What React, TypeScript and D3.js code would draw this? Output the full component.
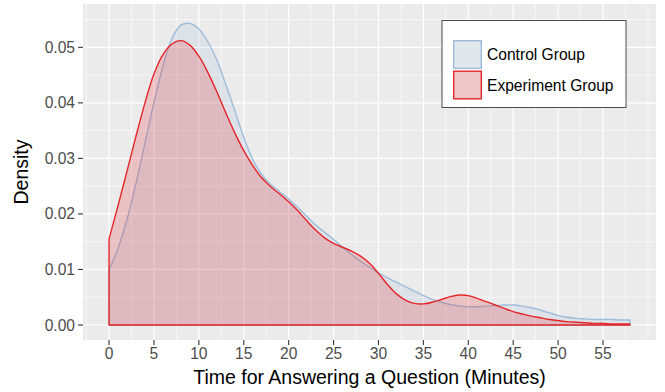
import { useEffect, useRef } from "react";
import * as d3 from "d3";

const minutes = d3.range(0, 59);

const controlDensity = [
  0.0099, 0.0138, 0.0190, 0.0255, 0.0328, 0.0400, 0.0466, 0.0516, 0.0540, 0.0543,
  0.0533, 0.0510, 0.0477, 0.0433, 0.0386, 0.0338, 0.0298, 0.0271, 0.0253, 0.0240,
  0.0227, 0.0212, 0.0196, 0.0180, 0.0167, 0.0154, 0.0140, 0.0127, 0.0115, 0.0104,
  0.0094, 0.0085, 0.0077, 0.0069, 0.0061, 0.0053, 0.0046, 0.0041, 0.0037, 0.0034,
  0.0033, 0.0033, 0.0034, 0.0035, 0.0036, 0.0036, 0.0034, 0.0031, 0.0027, 0.0022,
  0.0017, 0.0014, 0.0012, 0.0011, 0.0010, 0.0010, 0.0010, 0.0009, 0.0009,
];

const experimentDensity = [
  0.0155, 0.0215, 0.0277, 0.0340, 0.0400, 0.0452, 0.0487, 0.0506, 0.0512, 0.0504,
  0.0484, 0.0455, 0.0420, 0.0382, 0.0346, 0.0314, 0.0287, 0.0265, 0.0249, 0.0236,
  0.0222, 0.0206, 0.0188, 0.0171, 0.0157, 0.0147, 0.0140, 0.0133, 0.0124, 0.0111,
  0.0093, 0.0073, 0.0056, 0.0045, 0.0039, 0.0038, 0.0041, 0.0046, 0.0051, 0.0054,
  0.0053, 0.0048, 0.0042, 0.0036, 0.0030, 0.0024, 0.0020, 0.0016, 0.0013, 0.0010,
  0.0008, 0.0006, 0.0005, 0.0004, 0.0003, 0.0003, 0.0002, 0.0002, 0.0002,
];

const xTicks = d3.range(0, 60, 5);
const xMinor = d3.range(-2.5, 61, 2.5).filter((v) => !xTicks.includes(v));
const yTicks = [0, 0.01, 0.02, 0.03, 0.04, 0.05];
const yMinor = [0.005, 0.015, 0.025, 0.035, 0.045, 0.055];

const groups = [
  { name: "Control Group", values: controlDensity, fill: "#a6bddb", stroke: "#9ebcda" },
  { name: "Experiment Group", values: experimentDensity, fill: "#e41a1c", stroke: "#e3262a" },
];

export default function App() {
  const svgRef = useRef(null);

  useEffect(() => {
    document.body.style.margin = "0";
    const panel = { left: 83, right: 656, top: 4, bottom: 340 };

    const svg = d3.select(svgRef.current);
    svg.selectAll("*").remove();

    const x = d3.scaleLinear().domain([-2.9, 60.9]).range([panel.left, panel.right]);
    const y = d3.scaleLinear().domain([-0.0027, 0.0578]).range([panel.bottom, panel.top]);

    svg.append("rect")
      .attr("x", panel.left)
      .attr("y", panel.top)
      .attr("width", panel.right - panel.left)
      .attr("height", panel.bottom - panel.top)
      .attr("fill", "#ebebeb");

    const grid = svg.append("g");
    grid.selectAll("line.xminor").data(xMinor).join("line")
      .attr("x1", (d) => x(d)).attr("x2", (d) => x(d))
      .attr("y1", panel.top).attr("y2", panel.bottom)
      .attr("stroke", "#fff").attr("stroke-width", 0.6);
    grid.selectAll("line.yminor").data(yMinor).join("line")
      .attr("y1", (d) => y(d)).attr("y2", (d) => y(d))
      .attr("x1", panel.left).attr("x2", panel.right)
      .attr("stroke", "#fff").attr("stroke-width", 0.6);
    grid.selectAll("line.xmajor").data(xTicks).join("line")
      .attr("x1", (d) => x(d)).attr("x2", (d) => x(d))
      .attr("y1", panel.top).attr("y2", panel.bottom)
      .attr("stroke", "#fff").attr("stroke-width", 1.2);
    grid.selectAll("line.ymajor").data(yTicks).join("line")
      .attr("y1", (d) => y(d)).attr("y2", (d) => y(d))
      .attr("x1", panel.left).attr("x2", panel.right)
      .attr("stroke", "#fff").attr("stroke-width", 1.2);

    const area = d3.area()
      .x((d, i) => x(minutes[i]))
      .y0(y(0))
      .y1((d) => y(d))
      .curve(d3.curveCatmullRom);

    groups.forEach((g) => {
      svg.append("path")
        .attr("d", area(g.values))
        .attr("fill", g.fill)
        .attr("fill-opacity", 0.2)
        .attr("stroke", g.stroke)
        .attr("stroke-width", 1.4)
        .attr("stroke-linejoin", "round");
    });

    const font = "Liberation Sans, Arial, Helvetica, sans-serif";

    // axes
    const axes = svg.append("g").attr("font-family", font);
    axes.selectAll("line.xtick").data(xTicks).join("line")
      .attr("x1", (d) => x(d)).attr("x2", (d) => x(d))
      .attr("y1", panel.bottom).attr("y2", panel.bottom + 5)
      .attr("stroke", "#333").attr("stroke-width", 1.1);
    axes.selectAll("text.xlab").data(xTicks).join("text")
      .attr("x", (d) => x(d))
      .attr("y", 358.5)
      .attr("text-anchor", "middle")
      .attr("font-size", 15.6)
      .attr("fill", "#4d4d4d")
      .text((d) => d);
    axes.selectAll("line.ytick").data(yTicks).join("line")
      .attr("y1", (d) => y(d)).attr("y2", (d) => y(d))
      .attr("x1", panel.left - 5).attr("x2", panel.left)
      .attr("stroke", "#333").attr("stroke-width", 1.1);
    axes.selectAll("text.ylab").data(yTicks).join("text")
      .attr("x", 75)
      .attr("y", (d) => y(d) + 5.5)
      .attr("text-anchor", "end")
      .attr("font-size", 15.6)
      .attr("fill", "#4d4d4d")
      .text((d) => d3.format(".2f")(d));

    axes.append("text")
      .attr("x", (panel.left + panel.right) / 2)
      .attr("y", 384)
      .attr("text-anchor", "middle")
      .attr("font-size", 19.5)
      .attr("fill", "#000")
      .text("Time for Answering a Question (Minutes)");
    axes.append("text")
      .attr("transform", `translate(28,${(panel.top + panel.bottom) / 2}) rotate(-90)`)
      .attr("text-anchor", "middle")
      .attr("font-size", 19.5)
      .attr("fill", "#000")
      .text("Density");

    // legend
    const legend = svg.append("g").attr("font-family", font);
    legend.append("rect")
      .attr("x", 442).attr("y", 20.5)
      .attr("width", 184).attr("height", 87)
      .attr("fill", "#fff")
      .attr("stroke", "#4d4d4d")
      .attr("stroke-width", 1);
    groups.forEach((g, i) => {
      const top = 40 + i * 30.5;
      legend.append("rect")
        .attr("x", 453).attr("y", top)
        .attr("width", 29).attr("height", 29)
        .attr("fill", "#f2f2f2");
      legend.append("rect")
        .attr("x", 453.7).attr("y", top + 0.7)
        .attr("width", 27.6).attr("height", 27.6)
        .attr("fill", g.fill)
        .attr("fill-opacity", 0.2)
        .attr("stroke", g.stroke)
        .attr("stroke-width", 1.4);
      legend.append("text")
        .attr("x", 487)
        .attr("y", top + 20)
        .attr("font-size", 15.6)
        .attr("fill", "#000")
        .text(g.name);
    });
  }, []);

  return <svg ref={svgRef} width={665} height={392} style={{ display: "block" }} />;
}
